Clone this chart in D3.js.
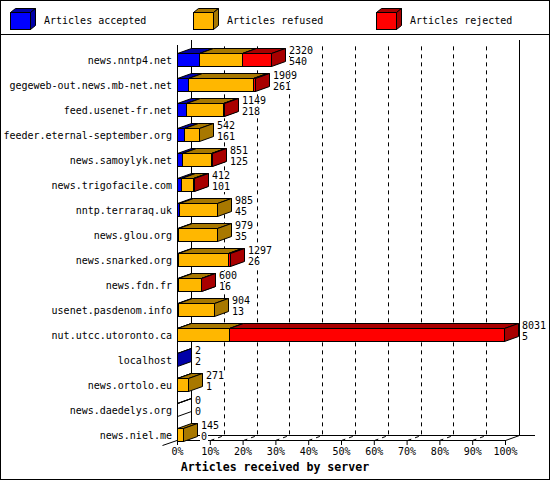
<!DOCTYPE html>
<html>
<head>
<meta charset="utf-8">
<script src="https://cdn.jsdelivr.net/npm/d3@7"></script>
<style>
  body { margin: 0; background: #fff; }
  svg text { font-family: "DejaVu Sans Mono", monospace; fill: #000; }
</style>
</head>
<body>
<div id="chart"></div>
<script>
// ---- data ----
var hosts = ['news.nntp4.net', 'gegeweb-out.news.mb-net.net', 'feed.usenet-fr.net',
  'feeder.eternal-september.org', 'news.samoylyk.net', 'news.trigofacile.com',
  'nntp.terraraq.uk', 'news.glou.org', 'news.snarked.org', 'news.fdn.fr',
  'usenet.pasdenom.info', 'nut.utcc.utoronto.ca', 'localhost', 'news.ortolo.eu',
  'news.daedelys.org', 'news.niel.me'];
var totals   = [2320, 1909, 1149, 542, 851, 412, 985, 979, 1297, 600, 904, 8031, 2, 271, 0, 145];
var accepted = [540, 261, 218, 161, 125, 101, 45, 35, 26, 16, 13, 5, 2, 1, 0, 0];
var refused  = [1060, 1618, 916, 381, 706, 285, 940, 944, 1231, 572, 891, 1280, 0, 270, 0, 145];
var rejected = [720, 30, 15, 0, 20, 26, 0, 0, 40, 12, 0, 6746, 0, 0, 0, 0];
var seriesNames = ['Articles accepted', 'Articles refused', 'Articles rejected'];
var tickLabels = ['0%', '10%', '20%', '30%', '40%', '50%', '60%', '70%', '80%', '90%', '100%'];
var fullScale = 8060;   // articles at the 100% mark
var xTitle = 'Articles received by server';

var fronts = ['#0000ff', '#ffb700', '#ff0000'];
var shades = ['#0000a8', '#a87800', '#a80000'];

var W = 550, H = 480;
var DX = 14, DY = 5;          // 3d depth
var plotL = 177, plotR = 505, plotT = 45, plotB = 440;

var svg = d3.select('#chart').append('svg')
  .attr('width', W).attr('height', H);

svg.append('rect').attr('x', 0.5).attr('y', 0.5).attr('width', W - 1).attr('height', H - 1)
  .attr('fill', '#fff').attr('stroke', '#000');

// Legend
svg.append('line').attr('x1', 0).attr('x2', W).attr('y1', 34.5).attr('y2', 34.5)
  .attr('stroke', '#000');

function box(g, x0, x1, y0, y1, dx, dy, fill, shade) {
  var pts = function(a) { return a.map(function(p) { return p.join(','); }).join(' '); };
  g.append('rect').attr('x', x0 + 0.5).attr('y', y0 + 0.5)
    .attr('width', Math.max(0, x1 - x0)).attr('height', y1 - y0)
    .attr('fill', fill).attr('stroke', '#000');
  g.append('polygon')
    .attr('points', pts([[x0 + 0.5, y0 + 0.5], [x1 + 0.5, y0 + 0.5], [x1 + dx + 0.5, y0 - dy + 0.5], [x0 + dx + 0.5, y0 - dy + 0.5]]))
    .attr('fill', shade).attr('stroke', '#000').attr('stroke-linejoin', 'round');
  g.append('polygon')
    .attr('points', pts([[x1 + 0.5, y0 + 0.5], [x1 + dx + 0.5, y0 - dy + 0.5], [x1 + dx + 0.5, y1 - dy + 0.5], [x1 + 0.5, y1 + 0.5]]))
    .attr('fill', shade).attr('stroke', '#000').attr('stroke-linejoin', 'round');
}

var legend = svg.append('g');
seriesNames.forEach(function(name, i) {
  var lx = 10 + i * 183;
  box(legend, lx, lx + 20, 12, 29, 5, 4, fronts[i], shades[i]);
  legend.append('text').attr('x', lx + 34).attr('y', 24)
    .attr('font-size', 10).text(name);
});

// Scales
var x = d3.scaleLinear().domain([0, fullScale]).range([plotL, plotR]);
var y = d3.scalePoint().domain(hosts).range([59.5, 434.5]);
var tickVals = tickLabels.map(function(t, i) { return fullScale * i / 10; });

// Back wall and floor
var wall = svg.append('g').attr('stroke', '#000').attr('fill', 'none');
wall.append('line').attr('x1', plotL + DX + 0.5).attr('x2', plotL + DX + 0.5)
  .attr('y1', plotT - DY).attr('y2', plotB - DY);
wall.append('line').attr('x1', plotR + DX + 0.5).attr('x2', plotR + DX + 0.5)
  .attr('y1', plotT - DY).attr('y2', plotB - DY);
wall.append('line').attr('x1', plotL + DX).attr('x2', plotR + 2 * DX + 2)
  .attr('y1', plotB - DY + 0.5).attr('y2', plotB - DY + 0.5);

// Dashed grid: floor diagonal + back wall vertical
tickVals.slice(1, -1).forEach(function(v) {
  var xf = Math.round(x(v)) + 0.5;
  wall.append('path')
    .attr('d', 'M' + xf + ',' + (plotB + 0.5) + 'L' + (xf + DX) + ',' + (plotB - DY + 0.5) +
      'L' + (xf + DX) + ',' + (plotT - DY + 6))
    .attr('stroke-dasharray', '4,4');
});

// Solid floor edges
wall.append('line').attr('x1', plotL + DX + 0.5).attr('y1', plotB - DY + 0.5)
  .attr('x2', plotL - DX - 0.5).attr('y2', plotB + DY + 0.5);
wall.append('line').attr('x1', plotR + 0.5).attr('y1', plotB + 0.5)
  .attr('x2', plotR + DX + 0.5).attr('y2', plotB - DY + 0.5);

// Front value axis
var xAxis = svg.append('g')
  .attr('transform', 'translate(0,' + plotB + ')')
  .call(d3.axisBottom(x).tickValues(tickVals).tickSize(5).tickSizeOuter(0)
    .tickFormat(function(d, i) { return tickLabels[i]; }));
xAxis.attr('font-family', null).attr('font-size', null);
xAxis.select('.domain').attr('stroke', '#000');
xAxis.selectAll('line').attr('stroke', '#000');
xAxis.selectAll('text').attr('font-size', 10).attr('fill', '#000');

// Front category axis line
svg.append('line').attr('x1', plotL + 0.5).attr('x2', plotL + 0.5)
  .attr('y1', plotT).attr('y2', plotB + 0.5).attr('stroke', '#000');

// Bars (stacked, 3d boxes)
var bars = svg.append('g');
var labels = svg.append('g');
var halfBar = 6.5;

function valueLabel(px, py, str) {
  // each value sits on an opaque patch that hides the grid behind it
  var lg = labels.append('g');
  var bg = lg.append('rect').attr('fill', '#fff');
  lg.append('text').attr('x', px).attr('y', py).attr('font-size', 10).text(str);
  var bb = lg.node().getBBox();
  bg.attr('x', bb.x - 1).attr('y', py - 8).attr('width', bb.width + 2).attr('height', 10);
}

hosts.forEach(function(h, i) {
  var c = y(h);
  var y0 = Math.floor(c - halfBar), y1 = Math.floor(c + halfBar);
  var vals = [accepted[i], refused[i], rejected[i]];
  var cum = 0;
  if (totals[i] === 0) {
    box(bars, plotL, plotL, y0, y1, DX, DY, 'none', 'none');
  }
  vals.forEach(function(v, k) {
    if (v <= 0) return;
    var x0 = Math.round(x(cum));
    cum += v;
    var x1 = Math.round(x(cum));
    box(bars, x0, x1, y0, y1, DX, DY, fronts[k], shades[k]);
  });

  var lx = Math.round(x(totals[i])) + DX + 4;
  valueLabel(lx, c - 5.5, totals[i]);
  valueLabel(lx, c + 5.5, accepted[i]);
});

// Category labels
var yAxis = svg.append('g')
  .attr('transform', 'translate(' + plotL + ',0)')
  .call(d3.axisLeft(y).tickSize(0).tickPadding(5));
yAxis.attr('font-family', null).attr('font-size', null);
yAxis.select('.domain').remove();
yAxis.selectAll('text').attr('font-size', 10).attr('fill', '#000').attr('dy', '0.42em');

// Axis title
svg.append('text').attr('x', W / 2).attr('y', 470.5)
  .attr('text-anchor', 'middle').attr('font-size', 11.6).attr('font-weight', 'bold')
  .text(xTitle);
</script>
</body>
</html>
